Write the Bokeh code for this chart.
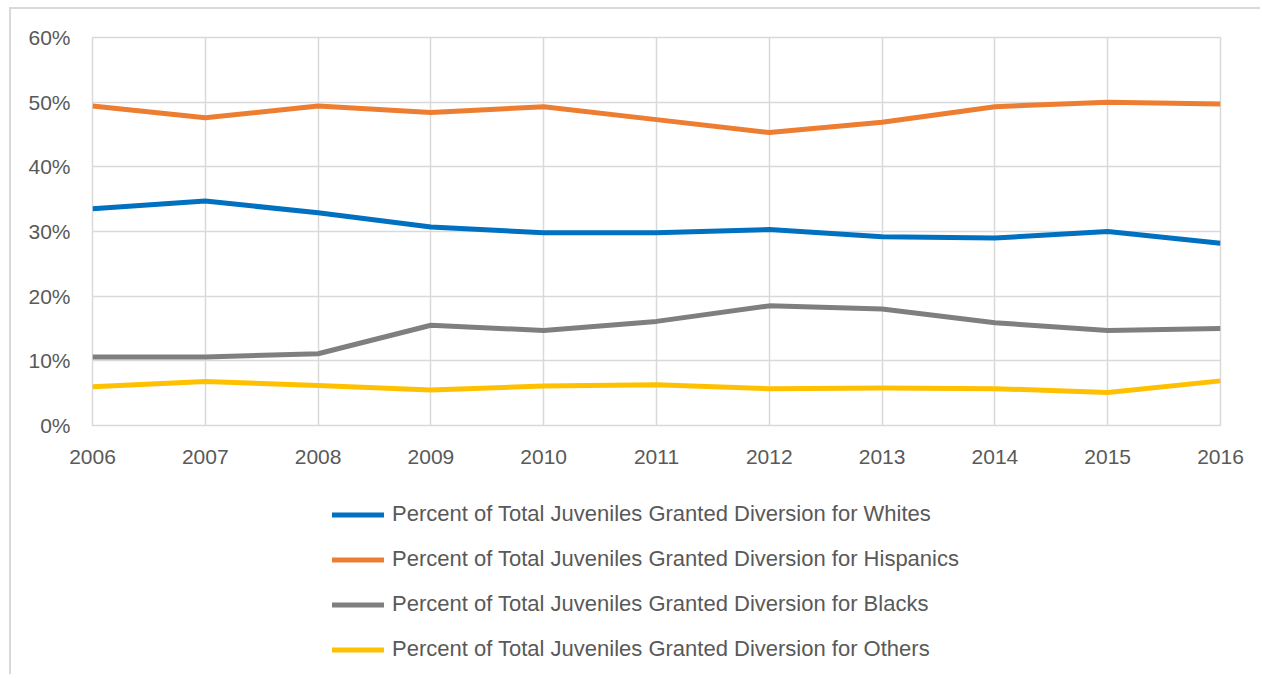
from bokeh.plotting import figure
from bokeh.layouts import column
from bokeh.models import FixedTicker, PrintfTickFormatter, Legend, LegendItem, Range1d
from bokeh.embed import file_html
from bokeh.resources import INLINE

years = [2006, 2007, 2008, 2009, 2010, 2011, 2012, 2013, 2014, 2015, 2016]
whites = [33.5, 34.7, 32.9, 30.7, 29.8, 29.8, 30.3, 29.2, 29.0, 30.0, 28.2]
hispanics = [49.4, 47.6, 49.4, 48.4, 49.3, 47.3, 45.3, 46.9, 49.3, 50.0, 49.7]
blacks = [10.6, 10.6, 11.1, 15.5, 14.7, 16.1, 18.5, 18.0, 15.9, 14.7, 15.0]
others = [6.0, 6.8, 6.2, 5.5, 6.1, 6.3, 5.7, 5.8, 5.7, 5.1, 6.9]
y_ticks = [0, 10, 20, 30, 40, 50, 60]

series = [
    ("Percent of Total Juveniles Granted Diversion for Whites", whites, "#0070C0"),
    ("Percent of Total Juveniles Granted Diversion for Hispanics", hispanics, "#ED7D31"),
    ("Percent of Total Juveniles Granted Diversion for Blacks", blacks, "#7F7F7F"),
    ("Percent of Total Juveniles Granted Diversion for Others", others, "#FFC000"),
]

FONT = "Liberation Sans"
TXT = "#595959"
GRID = "#d9d9d9"

p = figure(width=1249, height=470, output_backend="svg", toolbar_location=None,
           x_range=Range1d(2006, 2016), y_range=Range1d(0, 60),
           min_border_left=81, min_border_right=40, min_border_top=28, min_border_bottom=54)

for name, vals, col in series:
    p.line(years, vals, line_color=col, line_width=5, line_join="round")

p.outline_line_color = GRID
p.outline_line_width = 1.5
p.xgrid.grid_line_color = GRID
p.ygrid.grid_line_color = GRID
p.xgrid.grid_line_width = 1.5
p.ygrid.grid_line_width = 1.5
p.xaxis.ticker = FixedTicker(ticks=years)
p.yaxis.ticker = FixedTicker(ticks=y_ticks)
p.yaxis.formatter = PrintfTickFormatter(format="%d%%")
for ax in (p.xaxis[0], p.yaxis[0]):
    ax.axis_line_color = None
    ax.major_tick_line_color = None
    ax.minor_tick_line_color = None
    ax.major_label_text_font = FONT
    ax.major_label_text_font_size = "21px"
    ax.major_label_text_color = TXT
p.xaxis.major_label_standoff = 18
p.yaxis.major_label_standoff = 16

# legend drawn in its own figure below the chart (series kept out of its view range)
lg = figure(width=1249, height=195, output_backend="svg", toolbar_location=None,
            x_axis_type=None, y_axis_type=None, x_range=Range1d(0, 1), y_range=Range1d(0, 1),
            min_border_left=0, min_border_right=0, min_border_top=0, min_border_bottom=0)
lg.outline_line_color = None
lg.xgrid.visible = False
lg.ygrid.visible = False
items = []
for name, vals, col in series:
    r = lg.line(years, vals, line_color=col, line_width=5, line_cap="round")
    items.append(LegendItem(label=name, renderers=[r]))
legend = Legend(items=items, location=(240, 12), orientation="vertical",
                glyph_width=52, glyph_height=25, label_height=25, spacing=19,
                label_standoff=8, padding=0, margin=0,
                border_line_color=None, background_fill_alpha=0,
                label_text_font=FONT, label_text_font_size="22px", label_text_color=TXT)
lg.add_layout(legend, "center")

layout = column(p, lg, spacing=0)
layout.styles = {"border-top": "2px solid #d9d9d9", "border-left": "2px solid #d9d9d9",
                 "position": "relative", "left": "9px", "top": "7px"}

open("out.html", "w").write(file_html(layout, INLINE))
